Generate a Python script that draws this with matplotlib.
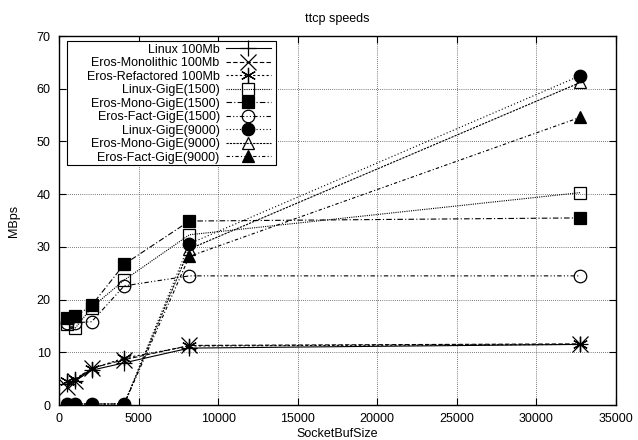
import matplotlib
matplotlib.use("Agg")
import matplotlib.pyplot as plt
from matplotlib.patches import Rectangle

plt.rcParams['font.family'] = ['Liberation Sans', 'DejaVu Sans']
plt.rcParams['font.size'] = 9

bufsize = [512, 1024, 2048, 4096, 8192, 32768]

linux_100 = [4.0, 4.6, 6.6, 8.0, 10.8, 11.5]
eros_mono_100 = [3.5, 4.5, 7.0, 8.6, 11.3, 11.6]
eros_refac_100 = [4.5, 5.0, 6.9, 8.9, 11.2, 11.5]
linux_gige_1500 = [15.3, 14.6, 18.5, 23.7, 32.3, 40.3]
eros_mono_gige_1500 = [16.5, 16.8, 18.9, 26.7, 34.9, 35.5]
eros_fact_gige_1500 = [15.6, 15.6, 15.8, 22.6, 24.5, 24.5]
linux_gige_9000 = [0.2, 0.2, 0.2, 0.2, 30.6, 62.5]
eros_mono_gige_9000 = [0.2, 0.2, 0.2, 0.2, 29.6, 61.2]
eros_fact_gige_9000 = [0.2, 0.2, 0.2, 0.2, 28.2, 54.6]

series = [
    ("Linux 100Mb", linux_100, "+", "-", "k"),
    ("Eros-Monolithic 100Mb", eros_mono_100, "x", (0, (4, 2)), "none"),
    ("Eros-Refactored 100Mb", eros_refac_100, (6, 2, 0), (0, (2, 2)), "none"),
    ("Linux-GigE(1500)", linux_gige_1500, "s", (0, (1, 1)), "none"),
    ("Eros-Mono-GigE(1500)", eros_mono_gige_1500, "s", (0, (5, 2, 1, 2)), "k"),
    ("Eros-Fact-GigE(1500)", eros_fact_gige_1500, "o", (0, (4, 2, 1, 2, 1, 2)), "none"),
    ("Linux-GigE(9000)", linux_gige_9000, "o", (0, (1, 2)), "k"),
    ("Eros-Mono-GigE(9000)", eros_mono_gige_9000, "^", (0, (2, 1)), "none"),
    ("Eros-Fact-GigE(9000)", eros_fact_gige_9000, "^", (0, (3, 2, 1, 2)), "k"),
]

fig = plt.figure(figsize=(6.38, 4.4), dpi=100)
ax = fig.add_axes([0.0925, 0.0795, 0.873, 0.8386])

for label, vals, mk, ls, fc in series:
    ms = 11 if mk in ("+", "x", (6, 2, 0)) else 9
    ax.plot(bufsize, vals, color="k", linestyle=ls, linewidth=0.8,
            marker=mk, markersize=ms, markerfacecolor=fc,
            markeredgecolor="k", markeredgewidth=0.9, label=label)

ax.set_xlim(0, 35000)
ax.set_ylim(0, 70)
ax.set_xticks(range(0, 35001, 5000))
ax.set_yticks(range(0, 71, 10))
ax.grid(True, color="k", linestyle=(0, (1, 2)), linewidth=0.5)
ax.tick_params(direction="in", top=True, right=True, length=5, width=0.8, pad=6)
for sp in ax.spines.values():
    sp.set_linewidth(1.0)

ax.set_title("ttcp speeds", fontsize=9, pad=10)
ax.set_xlabel("SocketBufSize", labelpad=2)
ax.set_ylabel("MBps", labelpad=12)

# gnuplot style key: wide box, labels right aligned before the sample
box = Rectangle((0.0144, 0.650), 0.3752, 0.3364, transform=ax.transAxes,
                facecolor="white", edgecolor="k", linewidth=0.8, zorder=4)
ax.add_patch(box)
leg = ax.legend(loc="upper right", bbox_to_anchor=(0.385, 0.986),
                markerfirst=False, handlelength=3.6, frameon=False,
                borderaxespad=0, labelspacing=0.12, handletextpad=0.5,
                borderpad=0.2, numpoints=1)
leg.set_zorder(5)

fig.savefig("out.png", dpi=100)
